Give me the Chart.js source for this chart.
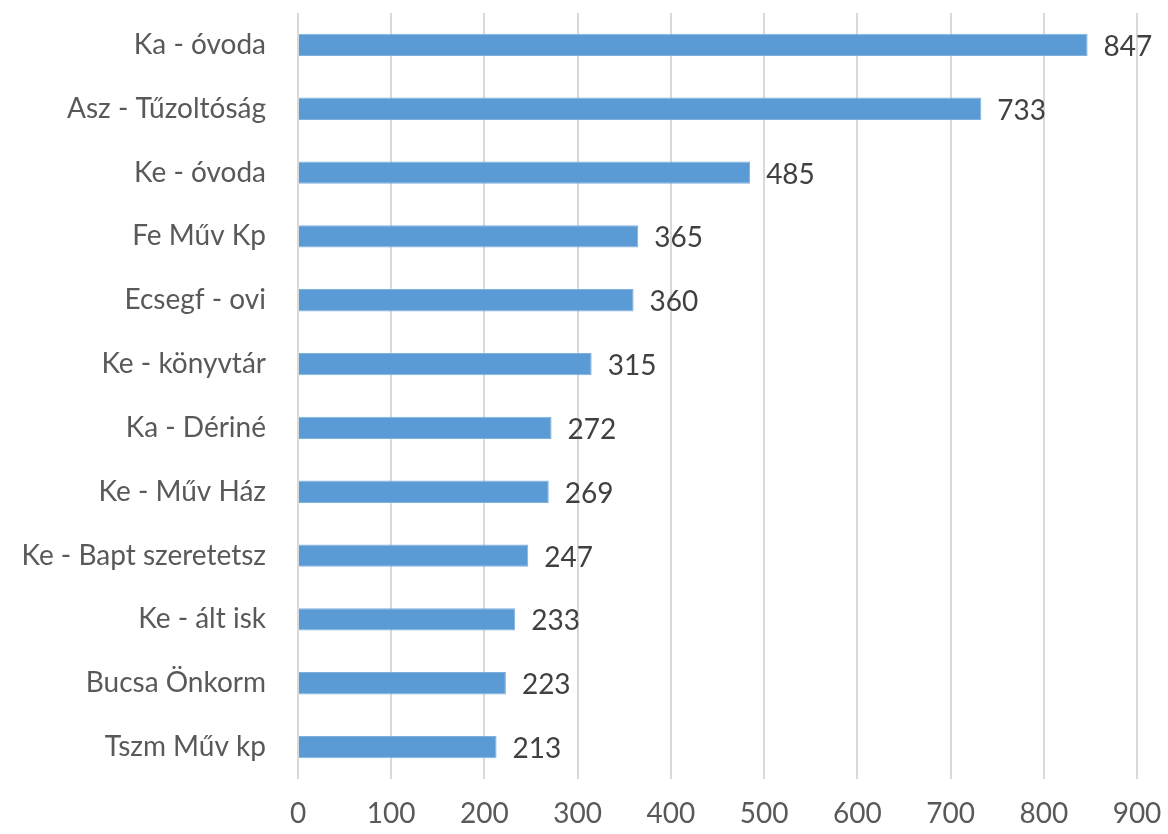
<!DOCTYPE html>
<html>
<head>
<meta charset="utf-8">
<script src="https://cdn.jsdelivr.net/npm/chart.js@4/dist/chart.umd.min.js"></script>
<style>
  html, body { margin: 0; padding: 0; background: #fff; }
  canvas { display: block; }
</style>
</head>
<body>
<canvas id="myChart" width="1168" height="834"></canvas>
<script>
// data
var labels = ['Ka - óvoda', 'Asz - Tűzoltóság', 'Ke - óvoda', 'Fe Műv Kp', 'Ecsegf - ovi',
    'Ke - könyvtár', 'Ka - Dériné', 'Ke - Műv Ház', 'Ke - Bapt szeretetsz', 'Ke - ált isk',
    'Bucsa Önkorm', 'Tszm Műv kp'];
var values = [847, 733, 485, 365, 360, 315, 272, 269, 247, 233, 223, 213];
var xMax = 900;
var xStep = 100;

var fontFamily = 'Lato, "Open Sans", sans-serif';

// draws the value at the end of each bar
var valueLabels = {
    id: 'valueLabels',
    afterDatasetsDraw: function(chart) {
        var ctx = chart.ctx;
        var meta = chart.getDatasetMeta(0);
        ctx.save();
        ctx.font = '28px ' + fontFamily;
        ctx.fillStyle = '#404040';
        ctx.textAlign = 'left';
        ctx.textBaseline = 'middle';
        meta.data.forEach(function(bar, i) {
            ctx.fillText(values[i], bar.x + 16, bar.y + 2);
        });
        ctx.restore();
    }
};

var ctx = document.getElementById('myChart').getContext('2d');
var myChart = new Chart(ctx, {
    type: 'bar',
    data: {
        labels: labels,
        datasets: [{
            data: values,
            backgroundColor: '#5b9bd5',
            borderColor: '#7fb0de',
            borderWidth: 1,
            categoryPercentage: 1,
            barPercentage: 0.35
        }]
    },
    plugins: [valueLabels],
    options: {
        indexAxis: 'y',
        responsive: false,
        animation: false,
        layout: { padding: { top: 13, right: 31, left: 0, bottom: 0 } },
        plugins: {
            legend: { display: false },
            tooltip: { enabled: false }
        },
        scales: {
            x: {
                min: 0,
                max: xMax,
                border: { display: false },
                grid: { color: '#d9d9d9', lineWidth: 2, drawTicks: false },
                ticks: {
                    stepSize: xStep,
                    padding: 18,
                    color: '#595959',
                    font: { family: fontFamily, size: 28 }
                },
                afterFit: function(scale) {
                    scale.height = 55;
                    scale.paddingLeft = 0;
                    scale.paddingRight = 0;
                }
            },
            y: {
                border: { display: false },
                grid: { display: false },
                ticks: {
                    padding: 24,
                    color: '#595959',
                    font: { family: fontFamily, size: 28 }
                },
                afterFit: function(scale) {
                    scale.width = 298;
                    scale.paddingTop = 0;
                    scale.paddingBottom = 0;
                }
            }
        }
    }
});
</script>
</body>
</html>
